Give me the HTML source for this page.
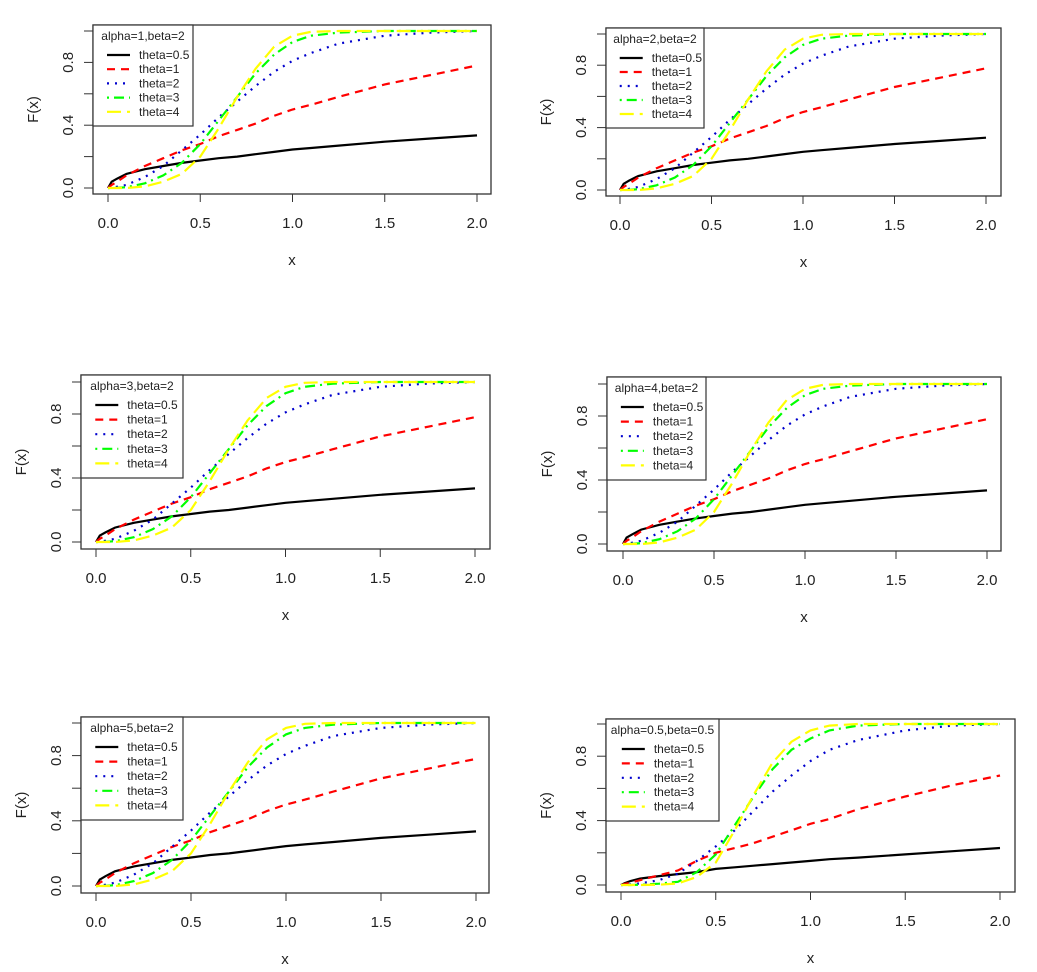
<!DOCTYPE html>
<html><head><meta charset="utf-8"><style>
html,body{margin:0;padding:0;background:#fff;}
svg{display:block;font-family:"Liberation Sans",Arial,sans-serif;}
</style></head><body>
<svg id="chart" width="1037" height="972" viewBox="0 0 1037 972"></svg>
<script>
const xGrid = [0,0.02,0.05,0.1,0.2,0.3,0.4,0.5,0.6,0.7,0.8,0.9,1.0,1.1,1.25,1.5,1.75,2.0];
const theta05 = [0,0.04,0.06,0.09,0.12,0.14,0.16,0.175,0.19,0.20,0.215,0.23,0.245,0.255,0.27,0.295,0.315,0.335];
const theta1 = [0,0.02,0.04,0.08,0.14,0.19,0.24,0.28,0.33,0.37,0.41,0.46,0.5,0.53,0.58,0.66,0.72,0.78];
const theta2 = [0,0.002,0.008,0.02,0.07,0.14,0.24,0.34,0.45,0.55,0.65,0.74,0.81,0.86,0.92,0.97,0.99,1.0];
const theta3 = [0,0,0.001,0.005,0.03,0.08,0.16,0.28,0.43,0.58,0.73,0.85,0.93,0.97,0.99,1,1,1];
const theta4 = [0,0,0,0,0.01,0.04,0.09,0.2,0.38,0.58,0.76,0.9,0.97,0.995,1,1,1,1];
const theta05b = [0,0.012,0.025,0.04,0.055,0.068,0.08,0.1,0.11,0.12,0.13,0.14,0.15,0.16,0.17,0.19,0.21,0.23];
const theta1b = [0,0.006,0.015,0.03,0.06,0.09,0.15,0.2,0.23,0.26,0.3,0.34,0.38,0.41,0.47,0.55,0.62,0.68];
const theta2b = [0,0.001,0.004,0.01,0.03,0.07,0.15,0.24,0.34,0.46,0.58,0.68,0.77,0.84,0.9,0.96,0.99,1.0];
const theta3b = [0,0,0,0.002,0.008,0.02,0.08,0.19,0.37,0.55,0.72,0.84,0.91,0.96,0.99,1,1,1];
const theta4b = [0,0,0,0,0.002,0.01,0.05,0.14,0.34,0.56,0.76,0.89,0.96,0.99,1,1,1,1];
const titles = ["alpha=1,beta=2","alpha=2,beta=2","alpha=3,beta=2","alpha=4,beta=2","alpha=5,beta=2","alpha=0.5,beta=0.5"];
const seriesNames = ["theta=0.5","theta=1","theta=2","theta=3","theta=4"];
const xTicks = [0,0.5,1.0,1.5,2.0];
const xTickLabels = ["0.0","0.5","1.0","1.5","2.0"];
const yTicks = [0,0.2,0.4,0.6,0.8,1.0];
const yTickLabels = {"0":"0.0","0.4":"0.4","0.8":"0.8"};
const panelData = [
 [theta05,theta1,theta2,theta3,theta4],[theta05,theta1,theta2,theta3,theta4],
 [theta05,theta1,theta2,theta3,theta4],[theta05,theta1,theta2,theta3,theta4],
 [theta05,theta1,theta2,theta3,theta4],[theta05b,theta1b,theta2b,theta3b,theta4b]];
const colors = ["#000","#f00","#00008b","#0f0","#ff0"];
const dashes = ["", "8 6", "2 6", "2 5 10 5", "14 6"];
const blueCol = "#0000cd";
// layout: box l,t,r,b; x0px,x2px; y0px,y1px; legend right,bottom
const layout = [
 [93,25,491,194,108,477,188,31,193,126],
 [606,28,1001,196,620,986,190,34,704,128],
 [81,375,490,549,96,475,542,382,183,478],
 [607,377,1001,551,623,987,544,384,706,480],
 [81,717,489,893,96,476,886,723,183,820],
 [606,719,1015,892,621,1000,885,724,719,821]];
const NS="http://www.w3.org/2000/svg";
const svg=document.getElementById('chart');
function mk(tag,attrs,parent){const e=document.createElementNS(NS,tag);for(const k in attrs)e.setAttribute(k,attrs[k]);(parent||svg).appendChild(e);return e;}
layout.forEach((L,pi)=>{
 const [bl,bt,br,bb,x0,x2,y0,y1,lr,lb]=L;
 const sx=v=>x0+(x2-x0)*v/2, sy=v=>y0+(y1-y0)*v;
 const g=mk('g',{});
 
 
 const clip=mk('clipPath',{id:'c'+pi},g);mk('rect',{x:bl,y:bt,width:br-bl,height:bb-bt},clip);
 const series=panelData[pi];
 series.forEach((vals,si)=>{
  const d=xGrid.map((xv,i)=>(i?'L':'M')+sx(xv).toFixed(1)+','+sy(vals[i]).toFixed(1)).join(' ');
  const p=mk('path',{d:d,fill:'none',stroke:si==2?blueCol:colors[si],'stroke-width':2.2,'stroke-dasharray':dashes[si],'clip-path':'url(#c'+pi+')'},g);
  
  
 });
 const box=mk('rect',{x:bl,y:bt,width:br-bl,height:bb-bt,fill:'none',stroke:'#333','stroke-width':1.3},g);
 
 
 // x axis ticks
 xTicks.forEach((t,i)=>{
  mk('line',{x1:sx(t),x2:sx(t),y1:bb,y2:bb+8,stroke:'#333'},g);
  const tx=mk('text',{x:sx(t),y:bb+34,'font-size':15,'text-anchor':'middle',fill:'#222'},g);
  tx.textContent=xTickLabels[i];
  
  
 });
 const xt=mk('text',{x:(bl+br)/2,y:bb+71,'font-size':15,'text-anchor':'middle',fill:'#222'},g);
 xt.textContent='x';
 
 
 // y axis ticks
 yTicks.forEach(t=>{
  mk('line',{x1:bl-9,x2:bl,y1:sy(t),y2:sy(t),stroke:'#333'},g);
  const lab=yTickLabels[String(t)];
  if(lab){const ty=mk('text',{x:0,y:0,'font-size':15,'text-anchor':'middle',fill:'#222',transform:`translate(${bl-20},${sy(t)}) rotate(-90)`},g);ty.textContent=lab;
   
   }
 });
 const yt=mk('text',{x:0,y:0,'font-size':15,'text-anchor':'middle',fill:'#222',transform:`translate(${bl-55},${(bt+bb)/2}) rotate(-90)`},g);
 yt.textContent='F(x)';
 
 
 // legend
 const lg=mk('g',{},g);
 
 
 mk('rect',{x:bl,y:bt,width:lr-bl,height:lb-bt,fill:'#fff',stroke:'#333','stroke-width':1.2},lg);
 const tt=mk('text',{x:(bl+lr)/2,y:bt+15,'font-size':12,'text-anchor':'middle',fill:'#222'},lg);
 tt.textContent=titles[pi];
 
 
 const lx=bl+(lr-bl)*0.14, rowH=(lb-bt-30)/5;
 seriesNames.forEach((n,si)=>{
  const y=bt+30+rowH*si;
  mk('line',{x1:lx,x2:lx+23,y1:y,y2:y,stroke:si==2?blueCol:colors[si],'stroke-width':2.2,'stroke-dasharray':dashes[si]},lg);
  const t=mk('text',{x:lx+32,y:y+4,'font-size':12,fill:'#222'},lg);
  t.textContent=n;
  
  
 });
});
</script>
</body></html>
